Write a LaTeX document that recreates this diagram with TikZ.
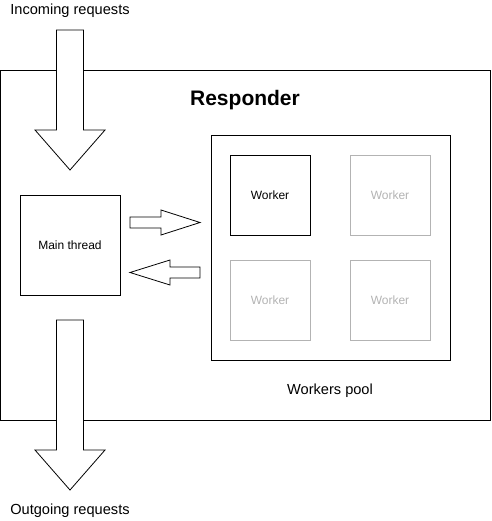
\documentclass[tikz,border=0pt]{standalone}
\usepackage{fontspec}
\setmainfont{Liberation Sans}
\usepackage{tikz}

\definecolor{idlegray}{RGB}{179,179,179}

\begin{document}
\begin{tikzpicture}[x=1pt, y=-1pt, line width=0.8pt]
		\tikzset{
			wbox/.style={
				draw, minimum width=80pt, minimum height=80pt, inner sep=0pt,
				font=\fontsize{12}{14}\selectfont
			},
			idlebox/.style={
				wbox, draw=idlegray, text=idlegray
			},
			lbl/.style={
				font=\fontsize{14.6}{17}\selectfont
			},
			blockarrow/.style={
				draw, fill=white
			}
		}
		\useasboundingbox (0,0) rectangle (491,521);
		
		\node [draw, minimum width=489.5pt, minimum height=350pt, inner sep=0pt] (resp) at (245.25,245) {};
		\node [font=\fontsize{21}{24}\selectfont\bfseries] (title) at (245,100) {Responder};
		
		\node [lbl] (inreq) at (70,11) {Incoming requests};
		\node [lbl] (outreq) at (70,511) {Outgoing requests};
		
		\foreach \ya/\yb/\yc in {30/130/170, 320/450/490}{
			\draw [blockarrow] (56.5,\ya) -- (83.5,\ya) -- (83.5,\yb) -- (105,\yb)
				-- (70,\yc) -- (35,\yb) -- (56.5,\yb) -- cycle;
		}
		
		\node [wbox, minimum width=100pt, minimum height=100pt] (main) at (70,245) {Main thread};
		
		\node [draw, minimum width=239pt, minimum height=225pt, inner sep=0pt] (pool) at (330.5,247.5) {};
		\node [lbl] (poollbl) at (330,391) {Workers pool};
		
		\node [wbox] (w1) at (270,195) {Worker};
		\foreach \n/\x/\y in {2/390/195, 3/270/300, 4/390/300}{
			\node [idlebox] (w\n) at (\x,\y) {Worker};
		}
		
		\foreach \xa/\xb/\xc/\y in {130/161/200/222.5, 200/170/130/272.5}{
			\draw [blockarrow] (\xa,\y-5.5) -- (\xb,\y-5.5) -- (\xb,\y-12.5) -- (\xc,\y)
				-- (\xb,\y+12.5) -- (\xb,\y+5.5) -- (\xa,\y+5.5) -- cycle;
		}
\end{tikzpicture}
\end{document}
